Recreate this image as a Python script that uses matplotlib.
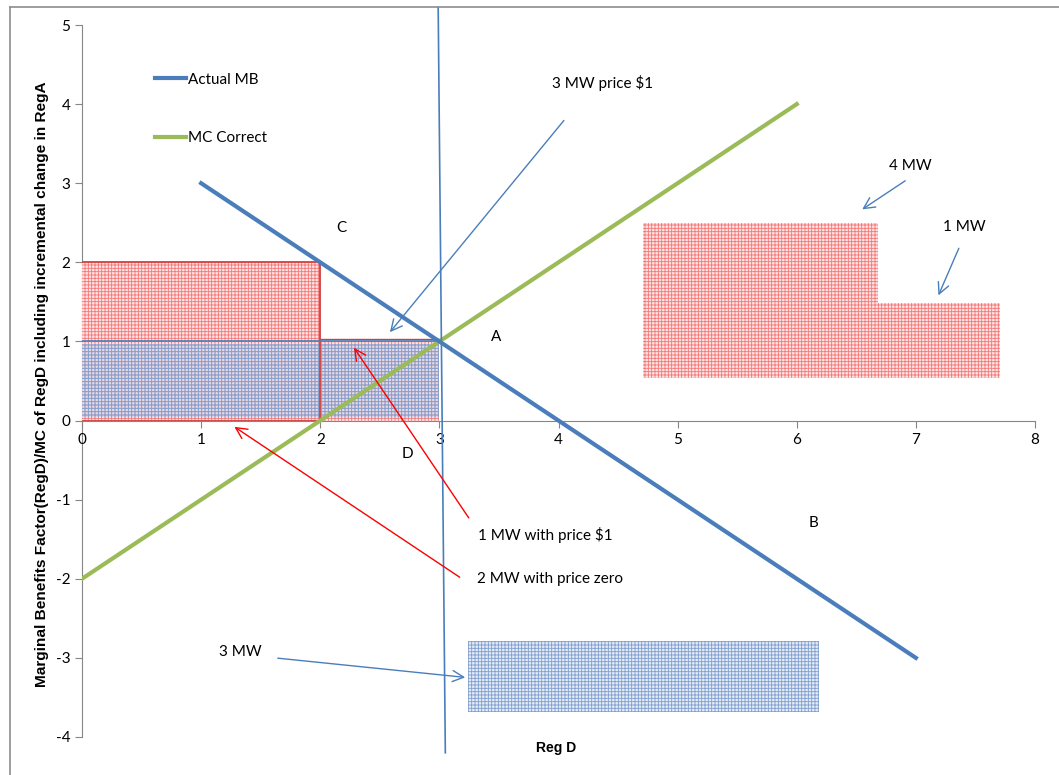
import matplotlib
matplotlib.use("Agg")
import matplotlib.pyplot as plt
from matplotlib.patches import Rectangle
from matplotlib.lines import Line2D

plt.rcParams['font.family'] = ['Lato', 'DejaVu Sans']
plt.rcParams['hatch.linewidth'] = 0.6
plt.rcParams['axes.unicode_minus'] = False

# curves
mb_x = [1, 7]
mb_y = [3, -3]
mc_x = [0, 6]
mc_y = [-2, 4]

# near-vertical reference line
vline_x = [2.99, 3.05]
vline_y = [5.22, -4.2]

# shaded blocks: (x0, y0, width, height)
red_blocks = [(0, 0, 2, 2), (2, 0, 1, 1.0), (4.71, 0.54, 1.97, 1.96), (6.68, 0.54, 1.03, 0.94)]
blue_blocks = [(0, 0.05, 3, 0.92), (3.24, -3.68, 2.95, 0.89)]

# point labels
point_labels = ["A", "B", "C", "D"]
point_x = [3.48, 6.14, 2.18, 2.73]
point_y = [1.05, -1.29, 2.43, -0.42]

# annotations: text, text pos, arrow start, arrow end, colour
notes = [
    ("3 MW price $1", (4.37, 4.27), (4.06, 3.82), (2.57, 1.09), "#4a7ebb"),
    ("4 MW", (6.95, 3.22), (6.93, 3.05), (6.53, 2.65), "#4a7ebb"),
    ("1 MW", (7.41, 2.45), (7.37, 2.21), (7.18, 1.55), "#4a7ebb"),
    ("1 MW with price $1", (3.89, -1.45), (3.26, -1.26), (2.27, 0.95), "red"),
    ("2 MW with price zero", (3.93, -2.0), (3.19, -2.0), (1.26, -0.06), "red"),
    ("3 MW", (1.33, -2.93), (1.62, -3.0), (3.24, -3.25), "#4a7ebb"),
]

fig = plt.figure(figsize=(10.59, 7.75), dpi=100)
ax = fig.add_axes([82 / 1059, 38 / 775, 953 / 1059, 712 / 775])
ax.set_xlim(0, 8)
ax.set_ylim(-4, 5)

for (x0, y0, w, h) in red_blocks:
    ax.add_patch(Rectangle((x0, y0), w, h, facecolor="#fde3e3", edgecolor="#f47878",
                           hatch="+++++", linewidth=0, zorder=1))
for (x0, y0, w, h) in blue_blocks:
    ax.add_patch(Rectangle((x0, y0), w, h, facecolor=(0.75, 0.82, 0.93, 0.45),
                           edgecolor="#7f9fd0", hatch="+++++", linewidth=0, zorder=1.5))

# outlines around the left blocks
ax.plot([0, 2, 2], [2.01, 2.01, 0], color="#d04040", lw=1.3, zorder=2)
ax.plot([0, 2], [0.0, 0.0], color="#d04040", lw=1.3, zorder=2)
ax.plot([2, 3], [1.03, 1.03], color="#d04040", lw=1.0, zorder=2)
ax.plot([0, 3], [1.0, 1.0], color="#4a7ebb", lw=1.2, zorder=2)

ax.plot(mb_x, mb_y, color="#4a7ebb", lw=3, label="Actual MB", zorder=4)
ax.plot(mc_x, mc_y, color="#9bbb59", lw=3, label="MC Correct", zorder=3)
ax.plot(vline_x, vline_y, color="#4a7ebb", lw=1.2, zorder=4, clip_on=False)

for lab, px, py in zip(point_labels, point_x, point_y):
    ax.text(px, py, lab, fontsize=11, ha="center", va="center")

for txt, tpos, a0, a1, col in notes:
    ax.text(tpos[0], tpos[1], txt, fontsize=11, ha="center", va="center")
    ax.annotate("", xy=a1, xytext=a0,
                arrowprops=dict(arrowstyle="->", color=col, lw=1.0,
                                mutation_scale=20), zorder=5)

# spines through origin
for s in ["top", "right"]:
    ax.spines[s].set_visible(False)
ax.spines["left"].set_position(("data", 0))
ax.spines["bottom"].set_position(("data", 0))
ax.spines["left"].set_color("#868686")
ax.spines["bottom"].set_color("#868686")
ax.spines["left"].set_zorder(0.5)
ax.set_xticks(range(0, 9))
ax.set_yticks(range(-4, 6))
ax.tick_params(axis="both", direction="out", length=5, color="#868686", labelsize=11)
ax.tick_params(axis="x", pad=4)

leg = ax.legend(loc="upper left", bbox_to_anchor=(0.0766, 0.933), frameon=False,
                fontsize=11, handlelength=2.0, labelspacing=2.9, handletextpad=0.15,
                borderpad=0, borderaxespad=0)

ax.set_xlabel("Reg D", fontweight="bold", fontsize=10, family="Liberation Sans")
ax.xaxis.set_label_coords(0.497, -0.006)
ax.set_ylabel("Marginal Benefits Factor(RegD)/MC of RegD including incremental change in RegA",
              fontweight="bold", fontsize=11.1, family="Liberation Sans")
ax.yaxis.set_label_coords(-0.035, 0.496)

# chart frame
fig.add_artist(Line2D([10 / 1059, 10 / 1059], [0, 1 - 7 / 775], color="#8c8c8c", lw=1.2))
fig.add_artist(Line2D([10 / 1059, 1], [1 - 7 / 775, 1 - 7 / 775], color="#8c8c8c", lw=1.2))

fig.savefig("out.png", dpi=100)
